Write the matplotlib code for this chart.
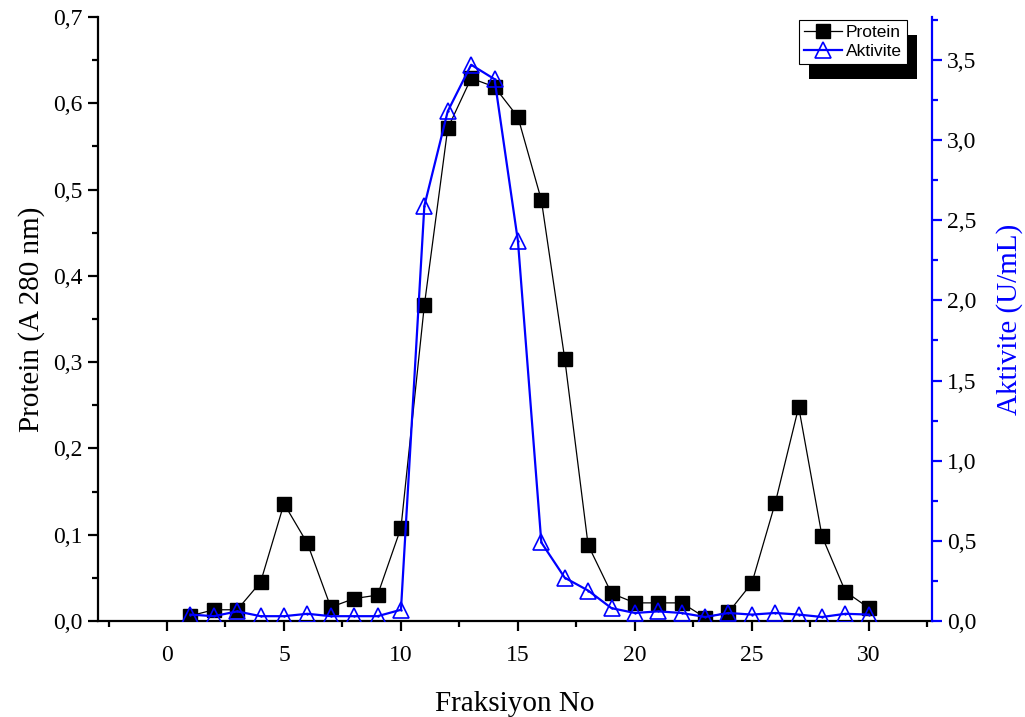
import matplotlib
matplotlib.use("Agg")
import matplotlib.pyplot as plt
import matplotlib.patheffects as pe
from matplotlib.ticker import MultipleLocator, FuncFormatter

# fraction numbers
fraksiyon = list(range(1, 31))

# absorbance at 280 nm (left axis)
protein = [0.006, 0.013, 0.013, 0.045, 0.136, 0.090, 0.016, 0.026, 0.030, 0.108,
           0.366, 0.571, 0.629, 0.619, 0.584, 0.488, 0.304, 0.088, 0.032, 0.021,
           0.021, 0.021, 0.004, 0.010, 0.044, 0.137, 0.248, 0.098, 0.034, 0.015]

# enzyme activity U/mL (right axis)
aktivite = [0.04, 0.03, 0.06, 0.03, 0.03, 0.045, 0.03, 0.03, 0.03, 0.07,
            2.59, 3.18, 3.47, 3.38, 2.37, 0.49, 0.27, 0.19, 0.08, 0.05,
            0.06, 0.05, 0.025, 0.05, 0.04, 0.05, 0.04, 0.025, 0.045, 0.04]

serif = "Liberation Serif"
sans = "Liberation Sans"

def comma(v, pos):
    return f"{v:.1f}".replace(".", ",")

fig = plt.figure(figsize=(10.25, 7.17), dpi=100)
ax = fig.add_axes([0.0956, 0.1339, 0.8137, 0.8424])
ax2 = ax.twinx()

l1, = ax.plot(fraksiyon, protein, color="black", lw=0.9, marker="s",
              markersize=9.5, markerfacecolor="black", markeredgecolor="black",
              label="Protein", zorder=3)
l2, = ax2.plot(fraksiyon, aktivite, color="#0000ff", lw=1.6, marker="^",
               markersize=11, markerfacecolor="none", markeredgecolor="#0000ff",
               markeredgewidth=1.2, label="Aktivite", zorder=4)
ax2.plot(fraksiyon, aktivite, ls="none", marker=".", markersize=1.5,
         color="#0000ff", zorder=5)

ax.set_xlim(-2.95, 32.7)
ax.set_ylim(0, 0.7)
ax2.set_ylim(0, 3.768)

ax.xaxis.set_major_locator(MultipleLocator(5))
ax.xaxis.set_minor_locator(MultipleLocator(2.5))
ax.yaxis.set_major_locator(MultipleLocator(0.1))
ax.yaxis.set_minor_locator(MultipleLocator(0.05))
ax2.yaxis.set_major_locator(MultipleLocator(0.5))
ax2.yaxis.set_minor_locator(MultipleLocator(0.25))
ax.yaxis.set_major_formatter(FuncFormatter(comma))
ax2.yaxis.set_major_formatter(FuncFormatter(comma))

for a in (ax, ax2):
    a.spines["top"].set_visible(False)
    for s in a.spines.values():
        s.set_linewidth(1.6)
ax.spines["right"].set_visible(False)
ax2.spines["left"].set_visible(False)
ax2.spines["bottom"].set_visible(False)
ax2.spines["right"].set_color("#0000ff")

ax.tick_params(which="major", direction="out", length=7, width=1.6,
               labelsize=17, pad=4)
ax.tick_params(axis="x", which="major", pad=10)
ax.tick_params(which="minor", direction="out", length=4, width=1.6)
ax2.tick_params(which="major", direction="out", length=7, width=1.6,
                color="#0000ff", labelsize=17, pad=4)
ax2.tick_params(which="minor", direction="out", length=4, width=1.6,
                color="#0000ff")
for lab in ax.get_xticklabels() + ax.get_yticklabels() + ax2.get_yticklabels():
    lab.set_fontfamily(serif)

ax.set_xlabel("Fraksiyon No", fontsize=21, fontfamily=serif, labelpad=18)
ax.set_ylabel("Protein (A 280 nm)", fontsize=21, fontfamily=serif, labelpad=6)
ax2.set_ylabel("Aktivite (U/mL)", fontsize=21, fontfamily=serif,
               color="#0000ff", labelpad=14)

leg = ax2.legend(handles=[l1, l2], loc="upper right",
                 bbox_to_anchor=(0.970, 0.995), borderaxespad=0,
                 prop={"family": sans, "size": 12.5}, fancybox=False,
                 framealpha=1, edgecolor="black", handlelength=2.2,
                 handletextpad=0.2, borderpad=0.3, labelspacing=0.2)
leg.get_frame().set_linewidth(0.8)
leg.get_frame().set_path_effects([
    pe.SimplePatchShadow(offset=(7, -11), shadow_rgbFace="black", alpha=1),
    pe.Normal()])

fig.savefig("out.png", dpi=100)
